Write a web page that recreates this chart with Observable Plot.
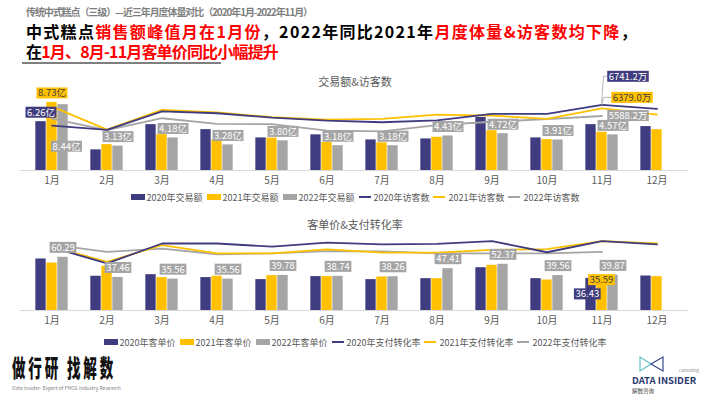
<!DOCTYPE html>
<html><head><meta charset="utf-8">
<script src="https://cdn.jsdelivr.net/npm/d3@7"></script>
<script src="https://cdn.jsdelivr.net/npm/@observablehq/plot@0.6"></script>
<style>
body{margin:0;width:710px;height:399px;position:relative;overflow:hidden;background:#fff;font-family:"Noto Sans CJK SC","Noto Sans",sans-serif;}
.abs{position:absolute;white-space:nowrap;}
.head{font-size:16px;font-weight:700;color:#000;line-height:18px;height:18px;}
.r{color:#ff0000;}
.ttl{font-size:11px;color:#595959;width:710px;text-align:center;left:0;}
.legend{left:0;width:710px;display:flex;justify-content:center;align-items:center;font-size:9px;color:#595959;height:12px;}
.legend .it{display:flex;align-items:center;margin:0 2px;}
.legend .sw{display:inline-block;width:14px;height:6px;margin-right:2px;}
.legend .ln{display:inline-block;width:12px;height:2px;margin-right:3px;}
</style></head><body>
<div id="sub" class="abs" style="left:26px;top:5px;font-size:10px;font-weight:700;color:#7f7f7f;line-height:14px">传统中式糕点（三级）—近三年月度体量对比（2020年1月-2022年11月）</div>
<div id="h1" class="abs head" style="left:26px;top:22px">中式糕点<span class="r">销售额峰值月在1月份</span>，2022年同比2021年<span class="r">月度体量&amp;访客数均下降</span>，</div>
<div id="h2" class="abs head" style="left:26px;top:42px">在<span class="r">1月、8月-11月客单价同比小幅提升</span></div>
<div class="abs" style="left:22px;top:62px;width:199px;height:2px;background:#7f7f7f"></div>

<div class="abs ttl" style="top:73px">交易额&amp;访客数</div>
<div id="c1" class="abs" style="left:0;top:66px"></div>
<div id="lg1" class="abs legend" style="top:191px"></div>

<div class="abs ttl" style="top:216px">客单价&amp;支付转化率</div>
<div id="c2" class="abs" style="left:0;top:230px"></div>
<div id="lg2" class="abs legend" style="top:336px"></div>

<div id="slogan" class="abs" style="left:12px;top:349px;font-size:24px;font-weight:900;color:#111;letter-spacing:5px;transform-origin:0 0">做行研 找解数</div>
<div class="abs" style="left:12px;top:384px;font-size:5px;color:#808080">Data Insider- Expert of FMCG Industry Research</div>
<svg class="abs" style="left:630px;top:352px" width="80" height="45">
  <path d="M10,5 L10,19 L21,12 Z" fill="none" stroke="#5fbfc8" stroke-width="1.2"/>
  <path d="M33,5 L33,19 L21,12 Z" fill="none" stroke="#3a4a8a" stroke-width="1.2"/>
  <text x="69" y="20" font-size="4" fill="#888" text-anchor="end">Consulting</text>
  <text x="2" y="32" font-size="9.5" font-weight="700" fill="#2c3a6e">DATA INSIDER</text>
  <text x="2" y="41" font-size="5.5" fill="#444">解数咨询</text>
</svg>

<script>
const NAVY = "#3f3c7f", GOLD = "#ffc000", GRAY = "#a5a5a5";
const months = ["1月","2月","3月","4月","5月","6月","7月","8月","9月","10月","11月","12月"];

// 交易额 (亿)
const sales2020 = [6.26, 2.65, 5.88, 5.24, 4.18, 4.57, 3.92, 4.05, 6.80, 4.18, 5.88, 5.63];
const sales2021 = [8.73, 3.32, 4.60, 3.90, 4.15, 3.60, 3.55, 4.26, 5.10, 3.96, 4.90, 5.24];
const sales2022 = [8.44, 3.13, 4.18, 3.28, 3.80, 3.18, 3.18, 4.43, 4.72, 3.91, 4.57, null];
// 访客数 (万)
const visitors2020 = [4610, 4170, 6070, 5870, 5430, 5120, 4950, 5150, 5800, 5800, 6741.2, 6320];
const visitors2021 = [6550, 4200, 6220, 5970, 5460, 5220, 5290, 5730, 5630, 5290, 6379.0, 5730];
const visitors2022 = [5330, 4150, 5360, 4780, 4760, 4100, 4020, 4650, 5000, 5260, 5588.2, null];
// 客单价
const price2020 = [58.4, 38.8, 40.6, 37.3, 35.0, 38.4, 35.0, 36.1, 48.5, 36.1, 36.43, 39.1];
const price2021 = [53.8, 50.1, 37.3, 38.8, 39.5, 38.4, 38.0, 36.1, 51.2, 34.6, 35.59, 38.4];
const price2022 = [60.29, 37.46, 35.56, 35.56, 39.78, 38.74, 38.26, 47.41, 52.37, 39.56, 39.87, null];
// 支付转化率 (%)
const conv2020 = [15.8, 11.8, 16.8, 16.8, 16.0, 17.0, 16.6, 16.7, 17.4, 14.6, 17.4, 16.6];
const conv2021 = [16.0, 12.2, 16.4, 14.3, 14.3, 15.3, 14.5, 14.5, 15.2, 15.4, 17.4, 16.8];
const conv2022 = [16.5, 14.7, 15.5, 14.1, 14.3, 14.9, 14.8, 14.3, 14.3, 14.3, 14.7, null];

const salesNames = ["2020年交易额","2021年交易额","2022年交易额"];
const visitorNames = ["2020年访客数","2021年访客数","2022年访客数"];
const priceNames = ["2020年客单价","2021年客单价","2022年客单价"];
const convNames = ["2020年支付转化率","2021年支付转化率","2022年支付转化率"];

// axis maxima (primary / secondary)
const SALES_MAX = 10, VISITOR_MAX = 8000, PRICE_MAX = 85, CONV_MAX = 18.8;

(function () {
const rowsTop = months.map((m, i) => ({month: m, a: sales2020[i], b: sales2021[i], c: sales2022[i],
  va: visitors2020[i], vb: visitors2021[i], vc: visitors2022[i]}));
const rowsBot = months.map((m, i) => ({month: m, a: price2020[i], b: price2021[i], c: price2022[i],
  va: conv2020[i], vb: conv2021[i], vc: conv2022[i]}));

const W = 710, ML = 20, MR = 22, BW = 11;
const band = (W - ML - MR) / months.length;
const ins = (band - BW) / 2;
const FONT = '"Noto Sans CJK SC", "Noto Sans", sans-serif';
const T_GRAY = "#fffffe", T_NAVY = "#fffffd", T_GOLD = "#404041";

function bars(rows, key, color, dx) {
  return Plot.barY(rows.filter(d => d[key] != null), {x: "month", y: key, fill: color, dx, insetLeft: ins, insetRight: ins});
}
function line(rows, key, color, k) {
  return Plot.line(rows.filter(d => d[key] != null), {x: "month", y: d => d[key] * k, stroke: color, strokeWidth: 1.8});
}
function baseOpts(height, marginTop, ymax) {
  return {
    width: W, height, marginTop, marginBottom: 20, marginLeft: ML, marginRight: MR,
    x: {domain: months, padding: 0, label: null, tickSize: 0, tickPadding: 6},
    y: {domain: [0, ymax], axis: null},
    style: {fontFamily: FONT, fontSize: "10px", color: "#595959", background: "transparent", overflow: "visible"}
  };
}

const kv = SALES_MAX / VISITOR_MAX;
const f2 = v => v.toFixed(2);
const chartTop = Plot.plot({
  ...baseOpts(124, 26, SALES_MAX),
  marks: [
    Plot.ruleY([0], {stroke: "#d9d9d9"}),
    bars(rowsTop, "a", NAVY, -BW), bars(rowsTop, "b", GOLD, 0), bars(rowsTop, "c", GRAY, BW),
    line(rowsTop, "vc", GRAY, kv), line(rowsTop, "vb", GOLD, kv), line(rowsTop, "va", NAVY, kv),
    Plot.text(rowsTop.filter((d, i) => i > 0 && d.c != null), {x: "month", y: "c", text: d => f2(d.c) + "亿", dx: BW, dy: -9, fill: T_GRAY, fontSize: 9.5}),
    Plot.text(rowsTop.filter((d, i) => i === 0), {x: "month", y: "c", text: d => f2(d.c) + "亿", dx: 14.5, dy: 42, fill: T_GRAY, fontSize: 9.5}),
    Plot.text(rowsTop.filter((d, i) => i === 0), {x: "month", y: "a", text: d => f2(d.a) + "亿", dx: -BW, dy: -9, fill: T_NAVY, fontSize: 9.5}),
    Plot.text(rowsTop.filter((d, i) => i === 0), {x: "month", y: "b", text: d => f2(d.b) + "亿", dx: 0, dy: -9, fill: T_GOLD, fontSize: 9.5}),
    Plot.text(rowsTop.filter(d => d.month === "11月"), {x: "month", y: d => d.vc * kv, text: d => d.vc.toFixed(1) + "万", dx: 26, dy: 0, fill: T_GRAY, fontSize: 9.5}),
    Plot.text(rowsTop.filter(d => d.month === "11月"), {x: "month", y: d => d.vb * kv, text: d => d.vb.toFixed(1) + "万", dx: 30, dy: -10.5, fill: T_GOLD, fontSize: 9.5}),
    Plot.text(rowsTop.filter(d => d.month === "11月"), {x: "month", y: d => d.va * kv, text: d => d.va.toFixed(1) + "万", dx: 26, dy: -28, fill: T_NAVY, fontSize: 9.5})
  ]
});
document.getElementById("c1").appendChild(chartTop);

const kc = PRICE_MAX / CONV_MAX;
const chartBot = Plot.plot({
  ...baseOpts(100, 5, PRICE_MAX),
  marks: [
    Plot.ruleY([0], {stroke: "#d9d9d9"}),
    bars(rowsBot, "a", NAVY, -BW), bars(rowsBot, "b", GOLD, 0), bars(rowsBot, "c", GRAY, BW),
    line(rowsBot, "vc", GRAY, kc), line(rowsBot, "vb", GOLD, kc), line(rowsBot, "va", NAVY, kc),
    Plot.text(rowsBot.filter(d => d.c != null), {x: "month", y: "c", text: d => f2(d.c), dx: BW, dy: -9.5, fill: T_GRAY, fontSize: 9.5}),
    Plot.text(rowsBot.filter(d => d.month === "11月"), {x: "month", y: "b", text: d => f2(d.b), dx: -0.5, dy: 1, fill: T_GOLD, fontSize: 9.5}),
    Plot.text(rowsBot.filter(d => d.month === "11月"), {x: "month", y: "a", text: d => f2(d.a), dx: -14.7, dy: 16, fill: T_NAVY, fontSize: 9.5})
  ]
});
document.getElementById("c2").appendChild(chartBot);

// boxes behind the value labels, sized from the rendered text
const boxColor = {[T_GRAY]: GRAY, [T_NAVY]: NAVY, [T_GOLD]: GOLD};
const boxes = {};
const ns = "http://www.w3.org/2000/svg";
function tr(el) {
  const m = /translate\(\s*([-\d.e]+)[ ,]+([-\d.e]+)\s*\)/.exec(el.getAttribute("transform") || "");
  return m ? [+m[1], +m[2]] : [0, 0];
}
function addBoxes(svg) {
  svg.querySelectorAll("g").forEach(g => {
    const f = (g.getAttribute("fill") || "").toLowerCase();
    if (!boxColor[f]) return;
    const [gx, gy] = tr(g);
    g.querySelectorAll("text").forEach(t => {
      const b = t.getBBox();
      const [txx, tyy] = tr(t);
      const h = 11, cy = b.y + b.height / 2 + 0.5;
      const r = document.createElementNS(ns, "rect");
      if (t.getAttribute("transform")) r.setAttribute("transform", t.getAttribute("transform"));
      r.setAttribute("x", b.x - 1.5); r.setAttribute("width", b.width + 3);
      r.setAttribute("y", cy - h / 2); r.setAttribute("height", h);
      r.setAttribute("fill", boxColor[f]);
      g.insertBefore(r, t);
      boxes[t.textContent] = {left: gx + txx + b.x - 1.5, midY: gy + tyy + cy};
    });
  });
}
addBoxes(chartTop); addBoxes(chartBot);

// leader lines for the 11月 visitor labels
try {
  const xs = chartTop.scale("x"), ys = chartTop.scale("y");
  const x0 = xs.apply("11月") + xs.bandwidth / 2;
  const gl = document.createElementNS(ns, "g");
  gl.setAttribute("stroke", "#a6a6a6"); gl.setAttribute("fill", "none"); gl.setAttribute("stroke-width", "0.8");
  const i = months.indexOf("11月");
  [visitors2020[i], visitors2021[i]].forEach(v => {
    const bx = boxes[v.toFixed(1) + "万"]; if (!bx) return;
    const y0 = ys.apply(v * kv);
    const p = document.createElementNS(ns, "path");
    p.setAttribute("d", `M${x0},${y0 - 1}L${x0 + 2},${bx.midY}L${bx.left},${bx.midY}`);
    gl.appendChild(p);
  });
  chartTop.appendChild(gl);
} catch (e) { console.error(e); }

function legend(id, barNames, lineNames) {
  const el = document.getElementById(id);
  const cols = [NAVY, GOLD, GRAY];
  barNames.forEach((n, i) => {
    const it = document.createElement("span"); it.className = "it";
    it.innerHTML = `<span class="sw" style="background:${cols[i]}"></span>${n}`;
    el.appendChild(it);
  });
  lineNames.forEach((n, i) => {
    const it = document.createElement("span"); it.className = "it";
    it.innerHTML = `<span class="ln" style="background:${cols[i]}"></span>${n}`;
    el.appendChild(it);
  });
}
legend("lg1", salesNames, visitorNames);
legend("lg2", priceNames, convNames);

function fit(id, target) {
  const el = document.getElementById(id);
  const w = el.getBoundingClientRect().width;
  const n = [...el.textContent].length;
  el.style.letterSpacing = ((target - w) / n) + "px";
}
fit("sub", 286); fit("h1", 612); fit("h2", 252);
const sl = document.getElementById("slogan");
sl.style.transform = `scaleX(${104 / sl.getBoundingClientRect().width})`;
})();
</script>
</body></html>
